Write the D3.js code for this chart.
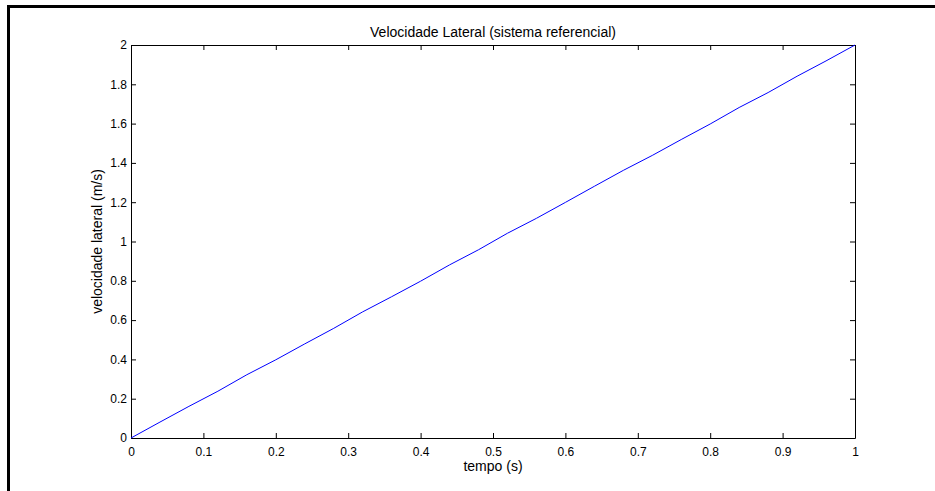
<!DOCTYPE html>
<html>
<head>
<meta charset="utf-8">
<script src="https://cdn.jsdelivr.net/npm/d3@7"></script>
<style>
  html, body { margin: 0; padding: 0; background: #fff; }
  svg { display: block; }
  text { font-family: "Liberation Sans", Arial, Helvetica, sans-serif; fill: #000; }
</style>
</head>
<body>
<div id="chart"></div>
<script>
// velocity samples
const tempo = [0, 0.04, 0.08, 0.12, 0.16, 0.2, 0.24, 0.28, 0.32, 0.36, 0.4, 0.44, 0.48,
  0.52, 0.56, 0.6, 0.64, 0.68, 0.72, 0.76, 0.8, 0.84, 0.88, 0.92, 0.96, 1];
const velocidade = [0, 0.081, 0.161, 0.238, 0.322, 0.398, 0.479, 0.558, 0.642, 0.719, 0.798,
  0.881, 0.958, 1.042, 1.118, 1.199, 1.281, 1.362, 1.438, 1.519, 1.598, 1.682, 1.758,
  1.841, 1.919, 2.0];

const xTicks = [0, 0.1, 0.2, 0.3, 0.4, 0.5, 0.6, 0.7, 0.8, 0.9, 1];
const yTicks = [0, 0.2, 0.4, 0.6, 0.8, 1, 1.2, 1.4, 1.6, 1.8, 2];

const titleText = "Velocidade Lateral (sistema referencial)";
const xLabel = "tempo (s)";
const yLabel = "velocidade lateral (m/s)";

const width = 935, height = 491;
const box = { left: 131, right: 855, top: 45, bottom: 438 };

const svg = d3.select("#chart").append("svg")
  .attr("width", width)
  .attr("height", height);

// outer frame (left + top only)
svg.append("rect").attr("x", 7).attr("y", 5).attr("width", 3).attr("height", height - 5).attr("fill", "#000");
svg.append("rect").attr("x", 7).attr("y", 5).attr("width", width - 7).attr("height", 3).attr("fill", "#000");

const x = d3.scaleLinear().domain([0, 1]).range([box.left, box.right]);
const y = d3.scaleLinear().domain([0, 2]).range([box.bottom, box.top]);

const fmt = d => String(d);

// axes with inward ticks
svg.append("g")
  .attr("transform", `translate(0,${box.bottom})`)
  .call(d3.axisBottom(x).tickValues(xTicks).tickFormat(fmt).tickSizeInner(-5).tickSizeOuter(0).tickPadding(9))
  .call(g => g.selectAll("text").attr("font-size", 12));

svg.append("g")
  .attr("transform", `translate(${box.left},0)`)
  .call(d3.axisLeft(y).tickValues(yTicks).tickFormat(fmt).tickSizeInner(-5).tickSizeOuter(0).tickPadding(4))
  .call(g => g.selectAll("text").attr("font-size", 12));

svg.append("g")
  .attr("transform", `translate(0,${box.top})`)
  .call(d3.axisTop(x).tickValues(xTicks).tickFormat("").tickSizeInner(-5).tickSizeOuter(0));

svg.append("g")
  .attr("transform", `translate(${box.right},0)`)
  .call(d3.axisRight(y).tickValues(yTicks).tickFormat("").tickSizeInner(-5).tickSizeOuter(0));

svg.selectAll(".domain").attr("stroke", "#000");
svg.selectAll(".tick line").attr("stroke", "#000");

// data line
const line = d3.line()
  .x((d, i) => x(tempo[i]))
  .y(d => y(d));

svg.append("path")
  .datum(velocidade)
  .attr("d", line)
  .attr("fill", "none")
  .attr("stroke", "#0000ff")
  .attr("stroke-width", 1);

// labels
svg.append("text")
  .attr("x", (box.left + box.right) / 2)
  .attr("y", 37)
  .attr("text-anchor", "middle")
  .attr("font-size", 14)
  .text(titleText);

svg.append("text")
  .attr("x", (box.left + box.right) / 2)
  .attr("y", 471)
  .attr("text-anchor", "middle")
  .attr("font-size", 14)
  .text(xLabel);

svg.append("text")
  .attr("transform", `translate(102,${(box.top + box.bottom) / 2}) rotate(-90)`)
  .attr("text-anchor", "middle")
  .attr("font-size", 14)
  .text(yLabel);
</script>
</body>
</html>
